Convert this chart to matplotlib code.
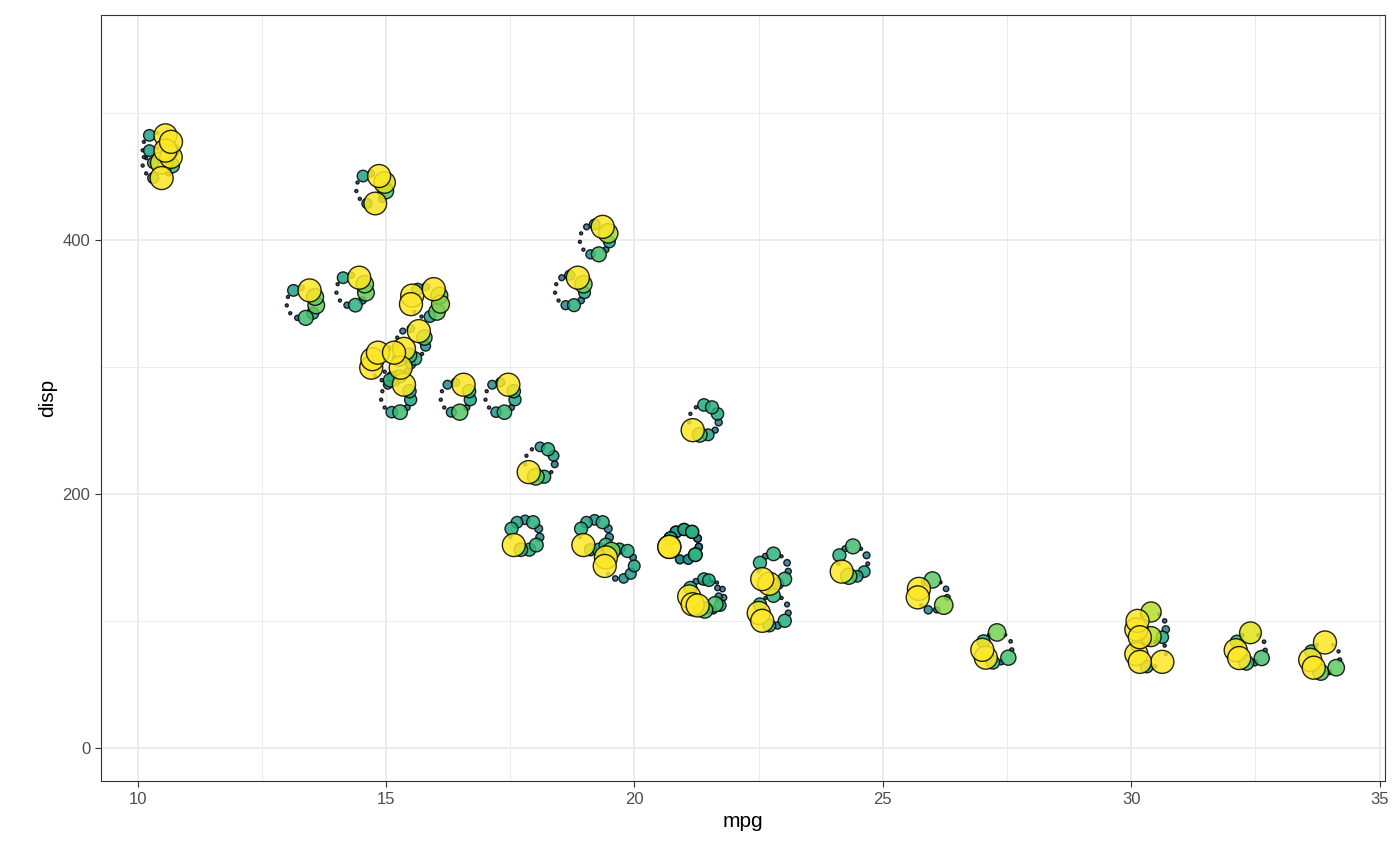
import numpy as np
import matplotlib
matplotlib.use("Agg")
import matplotlib.pyplot as plt
plt.rcParams['font.family'] = ['Liberation Sans', 'DejaVu Sans']

cols = ["mpg","cyl","disp","hp","drat","wt","qsec","vs","am","gear","carb"]
mtcars = [
[21,6,160,110,3.9,2.62,16.46,0,1,4,4],
[21,6,160,110,3.9,2.875,17.02,0,1,4,4],
[22.8,4,108,93,3.85,2.32,18.61,1,1,4,1],
[21.4,6,258,110,3.08,3.215,19.44,1,0,3,1],
[18.7,8,360,175,3.15,3.44,17.02,0,0,3,2],
[18.1,6,225,105,2.76,3.46,20.22,1,0,3,1],
[14.3,8,360,245,3.21,3.57,15.84,0,0,3,4],
[24.4,4,146.7,62,3.69,3.19,20,1,0,4,2],
[22.8,4,140.8,95,3.92,3.15,22.9,1,0,4,2],
[19.2,6,167.6,123,3.92,3.44,18.3,1,0,4,4],
[17.8,6,167.6,123,3.92,3.44,18.9,1,0,4,4],
[16.4,8,275.8,180,3.07,4.07,17.4,0,0,3,3],
[17.3,8,275.8,180,3.07,3.73,17.6,0,0,3,3],
[15.2,8,275.8,180,3.07,3.78,18,0,0,3,3],
[10.4,8,472,205,2.93,5.25,17.98,0,0,3,4],
[10.4,8,460,215,3,5.424,17.82,0,0,3,4],
[14.7,8,440,230,3.23,5.345,17.42,0,0,3,4],
[32.4,4,78.7,66,4.08,2.2,19.47,1,1,4,1],
[30.4,4,75.7,52,4.93,1.615,18.52,1,1,4,2],
[33.9,4,71.1,65,4.22,1.835,19.9,1,1,4,1],
[21.5,4,120.1,97,3.7,2.465,20.01,1,0,3,1],
[15.5,8,318,150,2.76,3.52,16.87,0,0,3,2],
[15.2,8,304,150,3.15,3.435,17.3,0,0,3,2],
[13.3,8,350,245,3.73,3.84,15.41,0,0,3,4],
[19.2,8,400,175,3.08,3.845,17.05,0,0,3,2],
[27.3,4,79,66,4.08,1.935,18.9,1,1,4,1],
[26,4,120.3,91,4.43,2.14,16.7,0,1,5,2],
[30.4,4,95.1,113,3.77,1.513,16.9,1,1,5,2],
[15.8,8,351,264,4.22,3.17,14.5,0,1,5,4],
[19.7,6,145,175,3.62,2.77,15.5,0,1,5,6],
[15,8,301,335,3.54,3.57,14.6,0,1,5,8],
[21.4,4,121,109,4.11,2.78,18.6,1,1,4,2],
]
M = np.array(mtcars, dtype=float)
mpg = M[:,0]; disp = M[:,2]
S = (M - M.min(0)) / (M.max(0) - M.min(0))

fig = plt.figure(figsize=(14, 8.66), dpi=100)
ax = fig.add_axes([0.072, 0.098, 0.917, 0.885])
ax.set_xlim(9.26, 35.1)
ax.set_ylim(-26, 577)
ax.set_axisbelow(True)
ax.set_xticks([10,15,20,25,30,35])
ax.set_yticks([0,200,400])
ax.set_xticks([12.5,17.5,22.5,27.5,32.5], minor=True)
ax.set_yticks([100,300,500], minor=True)
ax.grid(True, which="major", color="#EBEBEB", lw=1.4)
ax.grid(True, which="minor", color="#EBEBEB", lw=0.7)
ax.tick_params(which="minor", length=0)
ax.tick_params(which="major", length=4, color="#333333", labelsize=12, labelcolor="#4D4D4D")
for s in ax.spines.values():
    s.set_color("#333333"); s.set_linewidth(0.8)
ax.set_xlabel("mpg", fontsize=15)
ax.set_ylabel("disp", fontsize=15)

n = len(cols)
ang = np.pi/2 - 2*np.pi*np.arange(n)/n
rx, ry = 0.3, 12.0
cmap = plt.get_cmap("viridis")
xs, ys, sz, cs = [], [], [], []
for i in range(len(mpg)):
    for j in range(n):
        xs.append(mpg[i] + rx*np.cos(ang[j]))
        ys.append(disp[i] + ry*np.sin(ang[j]))
        d = 3 + 20*S[i, j]
        sz.append((d*0.72)**2)
        cs.append(cmap(0.25 + 0.75*S[i, j]))
order = np.argsort(sz)
ax.scatter(np.array(xs)[order], np.array(ys)[order], s=np.array(sz)[order],
           c=np.array(cs)[order], alpha=0.85, edgecolors="black", linewidths=1.0)
fig.savefig("out.png", dpi=100)
